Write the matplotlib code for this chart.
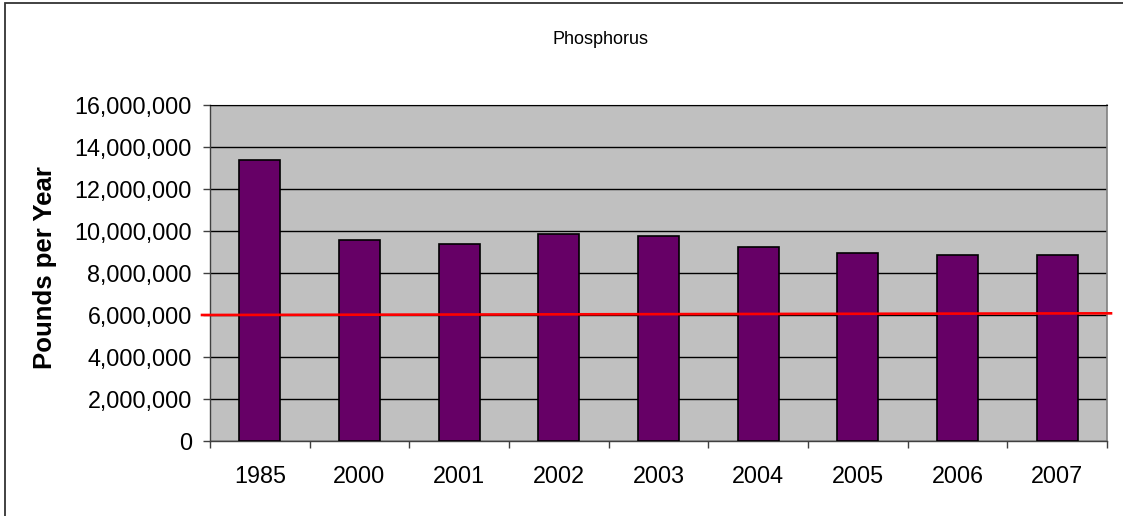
import numpy as np
import matplotlib.pyplot as plt
from matplotlib.patches import Rectangle
from matplotlib.ticker import FuncFormatter, FixedLocator

plt.rcParams['font.family'] = ['Liberation Sans', 'DejaVu Sans']

years = ['1985', '2000', '2001', '2002', '2003', '2004', '2005', '2006', '2007']
pounds = [13380000, 9580000, 9400000, 9840000, 9760000, 9220000, 8970000, 8870000, 8870000]

# goal line, drawn a little past both ends of the plot area
target_x = [-0.58, 8.54]
target_y = [6000000, 6080000]

W, H = 1123, 516
fig = plt.figure(figsize=(W / 100, H / 100), dpi=100)
ax = fig.add_axes([210 / W, 1 - 441 / H, (1107 - 210) / W, (441 - 105) / H])
ax.set_facecolor('#C0C0C0')

x = np.arange(len(years))
ax.bar(x, pounds, width=0.41, color='#660066', edgecolor='black', linewidth=1.2, zorder=3)
ax.plot(target_x, target_y, color='#FF0000', linewidth=1.9, clip_on=False, zorder=4)

ax.set_xlim(-0.5, len(years) - 0.5)
ax.set_ylim(0, 16000000)
ax.set_yticks(np.arange(0, 16000001, 2000000))
ax.yaxis.set_major_formatter(FuncFormatter(lambda v, p: f'{v:,.0f}'))
ax.yaxis.grid(True, color='black', linewidth=1.0, zorder=1)
ax.set_axisbelow(True)

# ticks between categories, labels under the bars
ax.xaxis.set_major_locator(FixedLocator(np.arange(-0.5, len(years), 1.0)))
ax.xaxis.set_major_formatter(FuncFormatter(lambda v, p: ''))
ax.xaxis.set_minor_locator(FixedLocator(x))
ax.set_xticklabels(years, minor=True)
ax.tick_params(axis='x', which='major', length=5, width=1, color='#404040')
ax.tick_params(axis='x', which='minor', length=0, pad=17, labelsize=16.8)
ax.tick_params(axis='y', length=5, width=1, color='#404040', pad=8, labelsize=16.8)

for side in ['left', 'bottom']:
    ax.spines[side].set_color('#404040')
    ax.spines[side].set_linewidth(1.0)
ax.spines['top'].set_color('black')
ax.spines['right'].set_color('#808080')
ax.spines['right'].set_linewidth(1.2)

ax.set_ylabel('Pounds per Year', fontsize=18.5, fontweight='bold')
ax.yaxis.set_label_coords((57 - 210) / 897, (441 - 267.5) / 336)
fig.text(601 / W, 1 - 40 / H, 'Phosphorus', ha='center', va='center', fontsize=13)

fig.patches.append(Rectangle((5 / W, -0.05), 1.1, 1 - 3.5 / H + 0.05,
                             transform=fig.transFigure, fill=False,
                             edgecolor='#333333', linewidth=1.3))

fig.savefig('out.png', dpi=100)
